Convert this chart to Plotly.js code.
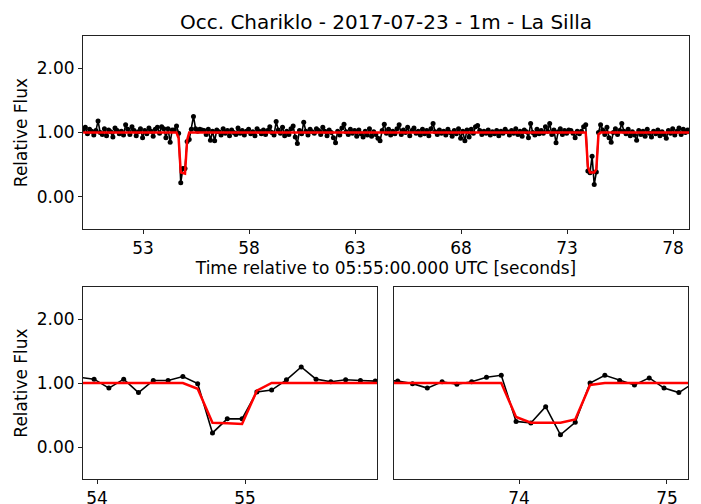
<!DOCTYPE html>
<html>
<head>
<meta charset="utf-8">
<script src="https://cdn.plot.ly/plotly-3.0.1.min.js"></script>
<style>html,body{margin:0;padding:0;background:#fff;}#chart{width:701px;height:504px;}</style>
</head>
<body>
<div id="chart"></div>
<script>
// Light curve sampling: first exposure and cadence (seconds after 05:55:00 UTC)
const startTime = 50.18;
const cadence = 0.1;

// Observed relative flux, one value per exposure (rows of 1 s)
const flux = [
  1.04, 1.08, 0.98, 1.05, 1.02, 0.96, 1.03, 1.18, 1.00, 0.97,
  1.06, 0.95, 1.04, 1.01, 0.93, 1.07, 1.03, 0.98, 1.02, 0.96,
  1.12, 1.05, 0.97, 1.09, 1.03, 0.95, 1.01, 1.06, 0.92, 1.03,
  0.98, 1.07, 1.02, 0.94, 1.05, 1.08, 0.99, 1.09, 1.06, 0.92,
  1.06, 0.85, 1.04, 1.04, 1.10, 0.99, 0.22, 0.44, 0.44, 0.86,
  0.89, 1.05, 1.25, 1.06, 1.02, 1.05, 1.04, 1.03, 0.97, 1.05,
  0.88, 1.02, 0.87, 1.04, 1.01, 0.96, 1.06, 0.99, 1.03, 0.95,
  1.04, 1.00, 0.97, 1.07, 0.99, 1.03, 0.96, 1.02, 1.05, 0.98,
  1.01, 0.95, 1.06, 1.02, 0.98, 1.04, 0.97, 1.03, 1.09, 1.00,
  0.96, 1.17, 1.04, 0.99, 1.08, 0.95, 1.02, 0.97, 1.06, 1.10,
  0.93, 0.83, 1.03, 0.98, 1.16, 1.02, 0.96, 1.05, 1.01, 0.99,
  1.06, 1.03, 0.97, 1.08, 1.02, 0.95, 1.04, 1.00, 0.92, 0.84,
  1.02, 0.96, 1.07, 1.13, 1.01, 0.97, 1.05, 0.99, 1.03, 0.94,
  1.04, 0.98, 0.93, 1.02, 0.96, 1.06, 0.94, 1.01, 0.97, 0.91,
  0.87, 1.03, 1.13, 0.99, 1.05, 0.96, 1.02, 0.98, 1.06, 1.12,
  0.97, 1.04, 1.00, 1.08, 0.95, 1.03, 1.07, 0.99, 1.02, 0.96,
  1.05, 0.98, 1.03, 0.95, 1.06, 1.14, 1.01, 0.97, 1.04, 0.99,
  1.02, 0.96, 1.05, 1.00, 0.94, 1.03, 0.98, 1.06, 0.91, 1.02,
  0.87, 1.04, 0.93, 1.05, 0.99, 1.09, 1.11, 1.03, 0.97, 1.02,
  0.99, 1.04, 0.96, 1.01, 0.98, 1.03, 0.95, 1.02, 0.99, 1.05,
  1.01, 0.96, 1.03, 0.99, 1.06, 0.97, 1.02, 0.94, 1.04, 1.01,
  0.92, 1.14, 1.00, 0.96, 1.05, 0.98, 1.03, 0.99, 1.09, 1.02,
  1.14, 0.97, 1.04, 0.84, 1.01, 1.06, 0.97, 1.03, 0.99, 1.04,
  1.03, 0.99, 0.92, 1.02, 0.98, 1.02, 1.09, 1.12, 0.40, 0.375,
  0.63, 0.19, 0.385, 1.00, 1.12, 1.04, 0.97, 1.08, 0.92, 0.85,
  1.00, 1.06, 0.97, 1.03, 1.14, 1.02, 0.98, 1.05, 0.95, 1.01,
  0.96, 0.88, 1.03, 0.97, 1.02, 0.94, 1.05, 0.99, 0.93, 1.02,
  0.98, 1.04, 0.95, 1.01, 0.97, 0.91, 1.03, 0.99, 1.06, 0.96,
  1.02, 1.07, 0.97, 1.05, 1.00, 1.04, 1.01
];

// Fitted occultation model (break points of the piecewise curve)
const modelTime = [50.18, 54.58, 54.68, 54.78, 54.88, 54.98, 55.08, 55.18,
                   73.88, 73.98, 74.08, 74.18, 74.28, 74.38, 74.48, 74.58, 78.78];
const modelFlux = [1.00, 1.00, 0.91, 0.38, 0.37, 0.36, 0.88, 1.00,
                   1.00, 0.47, 0.38, 0.38, 0.38, 0.43, 0.97, 1.00, 1.00];

// Axis ranges and ticks
const topRange = [50.17, 78.75];
const topTicks = [53, 58, 63, 68, 73, 78];
const ingressRange = [53.905, 55.892];
const ingressTicks = [54, 55];
const egressRange = [73.155, 75.142];
const egressTicks = [74, 75];
const fluxRange = [-0.5, 2.5];
const fluxTicks = [0, 1, 2];

const titleText = 'Occ. Chariklo - 2017-07-23 - 1m - La Silla';
const xTitleText = 'Time relative to 05:55:00.000 UTC [seconds]';
const yTitleText = 'Relative Flux';

const times = flux.map((_, i) => +(startTime + i * cadence).toFixed(2));

const FONT = 'DejaVu Sans, sans-serif';
const dataStyle = {mode: 'lines+markers', line: {color: '#000', width: 1.6}, marker: {color: '#000', size: 5}, hoverinfo: 'skip', showlegend: false};
const modelStyle = {mode: 'lines', line: {color: '#ff0000', width: 2.5}, hoverinfo: 'skip', showlegend: false};

const traces = [];
[['x', 'y'], ['x2', 'y2'], ['x3', 'y3']].forEach(([xa, ya]) => {
  traces.push(Object.assign({x: times, y: flux, xaxis: xa, yaxis: ya}, dataStyle));
  traces.push(Object.assign({x: modelTime, y: modelFlux, xaxis: xa, yaxis: ya}, modelStyle));
});

const W = 701, H = 504;
const px = (a, b) => [a / W, b / W];
const py = (top, bottom) => [1 - bottom / H, 1 - top / H];

const axBase = {
  showgrid: false, zeroline: false, showline: true, mirror: true,
  linecolor: '#222', linewidth: 1, ticks: 'outside', ticklen: 4, tickwidth: 1,
  tickcolor: '#222', tickfont: {family: FONT, size: 17, color: '#000'}, fixedrange: true
};

const layout = {
  width: W, height: H,
  margin: {l: 0, r: 0, t: 0, b: 0},
  paper_bgcolor: '#fff', plot_bgcolor: '#fff',
  font: {family: FONT, color: '#000'},
  title: {text: titleText, font: {family: FONT, size: 20, color: '#000'}, x: 386 / W, xanchor: 'center', y: 1 - 22 / H, yanchor: 'middle'},
  xaxis: Object.assign({}, axBase, {domain: px(83, 689), anchor: 'y', range: topRange, tickmode: 'array', tickvals: topTicks,
    title: {text: xTitleText, font: {family: FONT, size: 17, color: '#000'}, standoff: 1}}),
  yaxis: Object.assign({}, axBase, {domain: py(36, 229), anchor: 'x', range: fluxRange, tickmode: 'array', tickvals: fluxTicks, tickformat: '.2f',
    title: {text: yTitleText, font: {family: FONT, size: 17, color: '#000'}, standoff: 4}}),
  xaxis2: Object.assign({}, axBase, {domain: px(83, 377), anchor: 'y2', range: ingressRange, tickmode: 'array', tickvals: ingressTicks}),
  yaxis2: Object.assign({}, axBase, {domain: py(287, 479), anchor: 'x2', range: fluxRange, tickmode: 'array', tickvals: fluxTicks, tickformat: '.2f',
    title: {text: yTitleText, font: {family: FONT, size: 17, color: '#000'}, standoff: 4}}),
  xaxis3: Object.assign({}, axBase, {domain: px(394, 688), anchor: 'y3', range: egressRange, tickmode: 'array', tickvals: egressTicks}),
  yaxis3: Object.assign({}, axBase, {domain: py(287, 479), anchor: 'x3', range: fluxRange, tickmode: 'array', tickvals: fluxTicks, showticklabels: false, ticks: ''})
};

Plotly.newPlot('chart', traces, layout, {displayModeBar: false, staticPlot: true});
</script>
</body>
</html>
